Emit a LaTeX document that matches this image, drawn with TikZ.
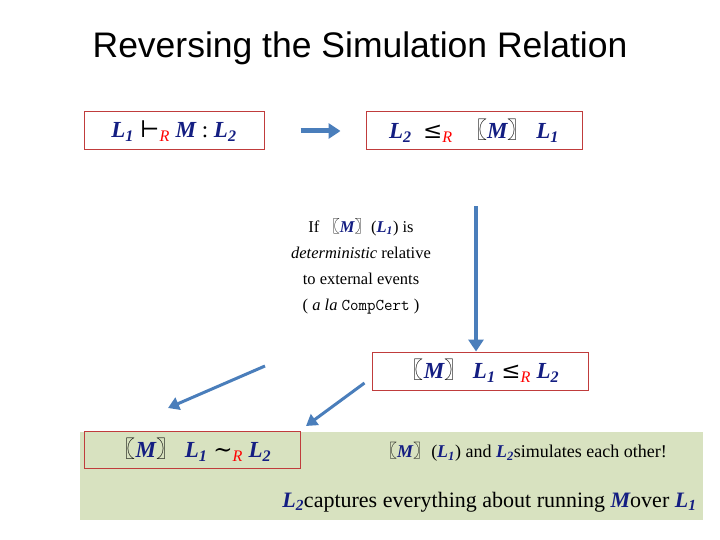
\documentclass[tikz,border=0pt]{standalone}
\usepackage{fontspec}
\setmainfont{Liberation Serif}
\newfontfamily\titlefont{Liberation Sans}
\newfontfamily\symfont{DejaVu Serif}
\newfontfamily\cjk{Noto Sans CJK SC}
\usetikzlibrary{positioning,arrows.meta}
\definecolor{navy}{RGB}{20,30,130}
\definecolor{boxred}{RGB}{192,60,60}
\definecolor{arrowblue}{RGB}{74,126,187}
\definecolor{bandgreen}{RGB}{216,226,192}
\newcommand{\Lv}[1]{{\color{navy}\bfseries\itshape L\textsubscript{#1}}}
\newcommand{\Mv}{{\color{navy}\bfseries\itshape M}}
\newcommand{\Rs}{\textsubscript{\color{red}\itshape R}}
\newcommand{\den}[1]{{\cjk〖}#1{\cjk〗}}
\tikzset{%
     relbox/.style = { draw=boxred, line width=1pt, inner sep=0pt, font=\fontsize{23}{27}\selectfont },
      arrow/.style = { arrowblue, line width=4pt, -{Triangle[length=12pt,width=15pt]} },
  thinarrow/.style = { arrowblue, line width=3pt, -{Triangle[length=11pt,width=13pt]} },
       note/.style = { align=center, font=\fontsize{16.5}{26}\selectfont }
}
\begin{document}
\begin{tikzpicture}[x=1pt,y=-1pt]
  \useasboundingbox (0,0) rectangle (720,540);
  \fill[bandgreen] (80,432) rectangle (703,520);

  \node (title) at (360,48) {\titlefont\fontsize{35.5}{40}\selectfont Reversing the Simulation Relation};

  \node[relbox, minimum width=180, minimum height=38] (typing) at (174,131)
    {\Lv1 {\symfont⊢}\Rs\ \Mv\ : \Lv2};
  \node[relbox, minimum width=216, minimum height=38] (refine) at (474,131)
    {\Lv2\ \ {\symfont≤}\Rs\ \ \den{\Mv}\ \Lv1};
  \draw[arrow, line width=5pt] (typing.east) ++(36,0) coordinate (a1) -- ++(40,0) coordinate (a2);

  \node[note] (cond) at (361,266)
    {If \den{\Mv}(\Lv1) is\\ \textit{deterministic} relative\\ to external events\\ ( \textit{a la} {\ttfamily CompCert} )};

  \node[relbox, minimum width=216, minimum height=38] (reverse) at (480,371)
    {\den{\Mv}\ \Lv1\ {\symfont≤}\Rs\ \Lv2};
  \draw[arrow] (refine.south -| 476,0) ++(0,56) -- (reverse.north -| 476,0);

  \node[relbox, minimum width=216, minimum height=37] (bisim) at (192,450)
    {\den{\Mv}\ \Lv1\ {\symfont∼}\Rs\ \Lv2};
  \coordinate (s1) at (265,366);
  \draw[thinarrow] (s1) -- (168,408);
  \draw[thinarrow] (reverse.west) ++(-7,12) -- (306,426);

  \node[font=\fontsize{18}{21}\selectfont] (each) at (523,452)
    {\den{\Mv}(\Lv1) and \Lv2simulates each other!};
  \node[anchor=east, font=\fontsize{22}{26}\selectfont] (capture) at (700,502)
    {\Lv2captures everything about running \Mv over \Lv1};
\end{tikzpicture}
\end{document}
